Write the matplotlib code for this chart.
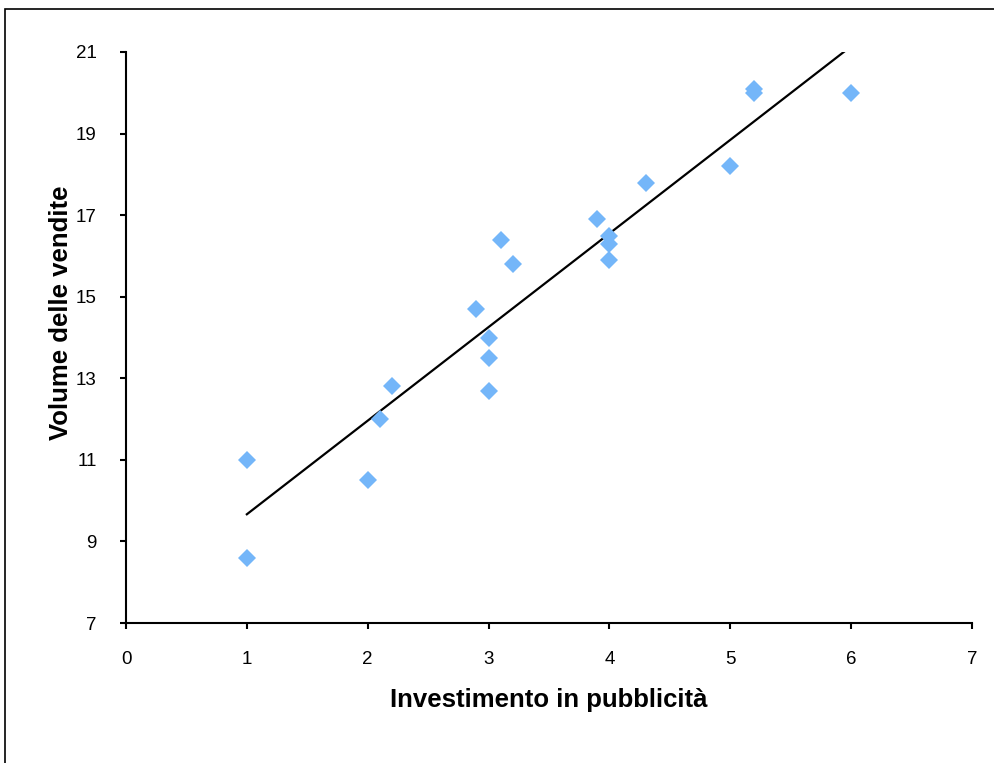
import numpy as np
import matplotlib
matplotlib.use("Agg")
import matplotlib.pyplot as plt
from matplotlib.patches import Rectangle

plt.rcParams['font.family'] = ['Liberation Sans', 'DejaVu Sans']

# ----------- dati -----------
investimento = [1, 1, 2, 2.1, 2.2, 2.9, 3, 3, 3, 3.1, 3.2, 3.9,
                4, 4, 4, 4.3, 5, 5.2, 5.2, 6]
vendite = [11.0, 8.6, 10.5, 12.0, 12.8, 14.7, 14.0, 13.5, 12.7, 16.4, 15.8, 16.9,
           16.5, 16.3, 15.9, 17.8, 18.2, 20.1, 20.0, 20.0]
x_ticks = [0, 1, 2, 3, 4, 5, 6, 7]
y_ticks = [7, 9, 11, 13, 15, 17, 19, 21]

x = np.array(investimento)
y = np.array(vendite)

fig = plt.figure(figsize=(9.94, 7.63), dpi=100)
ax = fig.add_axes([126 / 994, 1 - 623 / 763, (972 - 126) / 994, (623 - 52) / 763])

# cornice esterna (tagliata a destra e in basso come nell'originale)
fig.patches.append(Rectangle((5 / 994, -0.05), 1.2, 1 - 9 / 763 + 0.05,
                             transform=fig.transFigure, fill=False,
                             edgecolor='black', linewidth=1.2))

ax.plot(x, y, linestyle='none', marker='D', markersize=9.5,
        markerfacecolor='#74B6F9', markeredgewidth=0, zorder=3)

# retta di regressione (linea di tendenza)
m, q = np.polyfit(x, y, 1)
xl = np.array([x.min(), x.max()])
ax.plot(xl, m * xl + q, color='black', linewidth=1.6, zorder=2)

ax.set_xlim(x_ticks[0], x_ticks[-1])
ax.set_ylim(y_ticks[0], y_ticks[-1])
ax.set_xticks(x_ticks)
ax.set_yticks(y_ticks)

for side in ('top', 'right'):
    ax.spines[side].set_visible(False)
for side in ('left', 'bottom'):
    ax.spines[side].set_linewidth(1.5)

ax.tick_params(axis='both', direction='out', length=4, width=1.5, labelsize=13.5)
ax.tick_params(axis='x', pad=16)
ax.tick_params(axis='y', pad=17)

ax.set_xlabel('Investimento in pubblicità', fontsize=18.5, fontweight='bold', va='center')
ax.xaxis.set_label_coords(0.5, (623 - 700) / 571)
ax.set_ylabel('Volume delle vendite', fontsize=18.5, fontweight='bold', va='center')
ax.yaxis.set_label_coords((61 - 126) / 846, (623 - 313) / 571)

fig.savefig('out.png', dpi=100)
